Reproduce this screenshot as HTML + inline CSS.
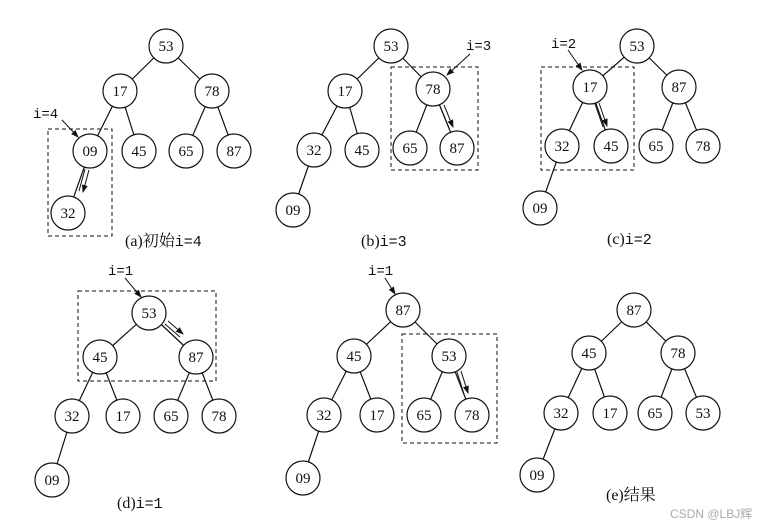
<!DOCTYPE html>
<html><head><meta charset="utf-8"><style>body{margin:0;background:#fff}svg{display:block}text{font-family:"Liberation Serif","Noto Serif CJK SC",serif;fill:#111}.m{font-family:"Liberation Mono",monospace}</style></head><body>
<svg width="766" height="526" viewBox="0 0 766 526" xmlns="http://www.w3.org/2000/svg">
<defs><marker id="ah" markerWidth="8" markerHeight="8" refX="7" refY="4" orient="auto" markerUnits="userSpaceOnUse"><path d="M0,1 L8,4 L0,7 Z" fill="#111"/></marker></defs>
<g stroke="#111" stroke-width="1.2" fill="none">
<path d="M166,46L120,91M166,46L212,91M120,91L90,151M120,91L139,151M212,91L186,151M212,91L234,151M90,151L68,213"/>
<path d="M391,46L345,91M391,46L433,89M345,91L314,150M345,91L362,150M433,89L410,148M433,89L457,148M314,150L293,210"/>
<path d="M637,46L590,87M637,46L679,87M590,87L562,146M590,87L611,146M679,87L656,146M679,87L703,146M562,146L540,208"/>
<path d="M149,313L100,357M149,313L196,357M100,357L72,416M100,357L123,416M196,357L171,416M196,357L219,416M72,416L52,480"/>
<path d="M403,310L354,356M403,310L449,356M354,356L324,415M354,356L377,415M449,356L424,415M449,356L472,415M324,415L303,478"/>
<path d="M634,310L589,353M634,310L678,353M589,353L561,413M589,353L610,413M678,353L655,413M678,353L703,413M561,413L537,475"/>
</g>
<g stroke="#111" stroke-width="1" fill="none" stroke-dasharray="4,3">
<rect x="48" y="129" width="64" height="107"/>
<rect x="391" y="67" width="87" height="103"/>
<rect x="541" y="67" width="93" height="103"/>
<rect x="78" y="291" width="138" height="90"/>
<rect x="402" y="334" width="95" height="109"/>
</g>
<g fill="#fff" stroke="#111" stroke-width="1.2">
<circle cx="166" cy="46" r="17"/><circle cx="120" cy="91" r="17"/><circle cx="212" cy="91" r="17"/><circle cx="90" cy="151" r="17"/><circle cx="139" cy="151" r="17"/><circle cx="186" cy="151" r="17"/><circle cx="234" cy="151" r="17"/><circle cx="68" cy="213" r="17"/>
<circle cx="391" cy="46" r="17"/><circle cx="345" cy="91" r="17"/><circle cx="433" cy="89" r="17"/><circle cx="314" cy="150" r="17"/><circle cx="362" cy="150" r="17"/><circle cx="410" cy="148" r="17"/><circle cx="457" cy="148" r="17"/><circle cx="293" cy="210" r="17"/>
<circle cx="637" cy="46" r="17"/><circle cx="590" cy="87" r="17"/><circle cx="679" cy="87" r="17"/><circle cx="562" cy="146" r="17"/><circle cx="611" cy="146" r="17"/><circle cx="656" cy="146" r="17"/><circle cx="703" cy="146" r="17"/><circle cx="540" cy="208" r="17"/>
<circle cx="149" cy="313" r="17"/><circle cx="100" cy="357" r="17"/><circle cx="196" cy="357" r="17"/><circle cx="72" cy="416" r="17"/><circle cx="123" cy="416" r="17"/><circle cx="171" cy="416" r="17"/><circle cx="219" cy="416" r="17"/><circle cx="52" cy="480" r="17"/>
<circle cx="403" cy="310" r="17"/><circle cx="354" cy="356" r="17"/><circle cx="449" cy="356" r="17"/><circle cx="324" cy="415" r="17"/><circle cx="377" cy="415" r="17"/><circle cx="424" cy="415" r="17"/><circle cx="472" cy="415" r="17"/><circle cx="303" cy="478" r="17"/>
<circle cx="634" cy="310" r="17"/><circle cx="589" cy="353" r="17"/><circle cx="678" cy="353" r="17"/><circle cx="561" cy="413" r="17"/><circle cx="610" cy="413" r="17"/><circle cx="655" cy="413" r="17"/><circle cx="703" cy="413" r="17"/><circle cx="537" cy="475" r="17"/>
</g>
<g font-size="15" text-anchor="middle">
<text x="166" y="51">53</text><text x="120" y="96">17</text><text x="212" y="96">78</text><text x="90" y="156">09</text><text x="139" y="156">45</text><text x="186" y="156">65</text><text x="234" y="156">87</text><text x="68" y="218">32</text>
<text x="391" y="51">53</text><text x="345" y="96">17</text><text x="433" y="94">78</text><text x="314" y="155">32</text><text x="362" y="155">45</text><text x="410" y="153">65</text><text x="457" y="153">87</text><text x="293" y="215">09</text>
<text x="637" y="51">53</text><text x="590" y="92">17</text><text x="679" y="92">87</text><text x="562" y="151">32</text><text x="611" y="151">45</text><text x="656" y="151">65</text><text x="703" y="151">78</text><text x="540" y="213">09</text>
<text x="149" y="318">53</text><text x="100" y="362">45</text><text x="196" y="362">87</text><text x="72" y="421">32</text><text x="123" y="421">17</text><text x="171" y="421">65</text><text x="219" y="421">78</text><text x="52" y="485">09</text>
<text x="403" y="315">87</text><text x="354" y="361">45</text><text x="449" y="361">53</text><text x="324" y="420">32</text><text x="377" y="420">17</text><text x="424" y="420">65</text><text x="472" y="420">78</text><text x="303" y="483">09</text>
<text x="634" y="315">87</text><text x="589" y="358">45</text><text x="678" y="358">78</text><text x="561" y="418">32</text><text x="610" y="418">17</text><text x="655" y="418">65</text><text x="703" y="418">53</text><text x="537" y="480">09</text>
</g>
<g stroke="#111" stroke-width="1" fill="none" marker-end="url(#ah)">
<path d="M62,120L78,137"/><path d="M470,54L447,75"/><path d="M568,50L582,70"/><path d="M125,278L141,297"/><path d="M385,278L395,294"/>
</g>
<g stroke="#111" stroke-width="1" fill="none">
<path d="M85,169L79,191M89,170L83,192" marker-end="url(#ah)"/>
<path d="M440,106L449,128M444,105L453,127" marker-end="url(#ah)"/>
<path d="M595,104L603,127M599,103L607,126" marker-end="url(#ah)"/>
<path d="M165,324L180,337M168,321L183,334" marker-end="url(#ah)"/>
<path d="M457,372L464,394M461,371L468,393" marker-end="url(#ah)"/>
</g>
<g font-size="14">
<text x="33" y="118" class="m">i=4</text><text x="466" y="50" class="m">i=3</text><text x="551" y="48" class="m">i=2</text><text x="108" y="275" class="m">i=1</text><text x="368" y="275" class="m">i=1</text>
</g>
<g font-size="16">
<text x="125" y="246">(a)初始<tspan class="m" font-size="15">i=4</tspan></text>
<text x="361" y="246">(b)<tspan class="m" font-size="15">i=3</tspan></text>
<text x="607" y="244">(c)<tspan class="m" font-size="15">i=2</tspan></text>
<text x="117" y="508">(d)<tspan class="m" font-size="15">i=1</tspan></text>
<text x="606" y="500">(e)结果</text>
</g>
<text x="670" y="518" font-size="12" style="font-family:'Liberation Sans','Noto Sans CJK SC',sans-serif;fill:#aaa">CSDN @LBJ辉</text>
</svg>
</body></html>
